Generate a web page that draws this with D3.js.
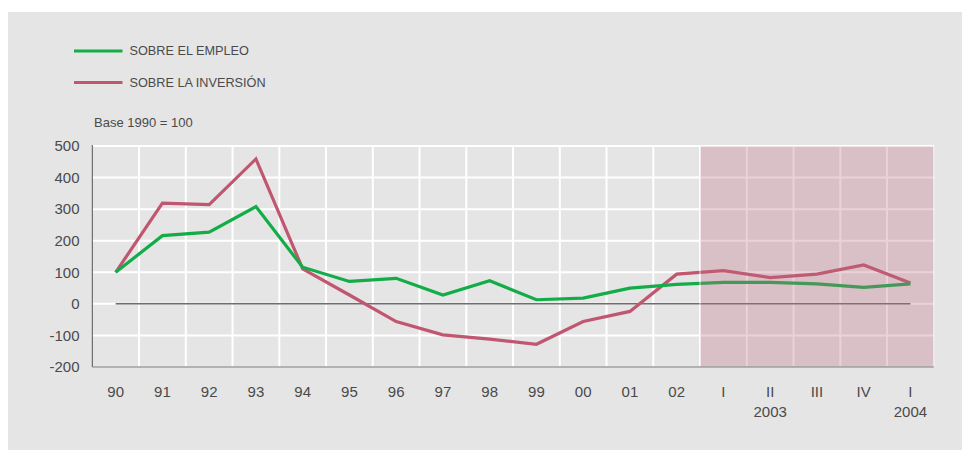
<!DOCTYPE html>
<html>
<head>
<meta charset="utf-8">
<script src="https://cdn.jsdelivr.net/npm/d3@7"></script>
<style>
html,body{margin:0;padding:0;background:#fff;}
svg{display:block;font-family:"Liberation Sans", Arial, sans-serif;}
</style>
</head>
<body>
<svg id="chart" width="962" height="450"></svg>
<script>
const categories = ["90","91","92","93","94","95","96","97","98","99","00","01","02","I","II","III","IV","I2004"];
const tickLabels = ["90","91","92","93","94","95","96","97","98","99","00","01","02","I","II","III","IV","I"];
const yearLabels = [{cat:"II", text:"2003"},{cat:"I2004", text:"2004"}];
const empleo =    [100,216,227,308,116,71,81,28,73,13,18,50,62,68,68,63,52,63];
const inversion = [100,319,314,459,111,28,-56,-98,-112,-128,-56,-24,94,105,83,94,123,66];
const yTicks = [500,400,300,200,100,0,-100,-200];
const seriesNames = ["SOBRE EL EMPLEO","SOBRE LA INVERSIÓN"];
const colors = ["#13ad48","#c0566f"];
const shadedFrom = "I";

(function(){
const svg = d3.select("#chart");
svg.append("rect").attr("x",8).attr("y",12).attr("width",954).attr("height",438).attr("fill","#e5e5e5");

const pL=92.3, pR=933.8, pT=146, pB=367;
const x = d3.scaleBand().domain(categories).range([pL,pR]).padding(0);
const y = d3.scaleLinear().domain([-200,500]).range([pB,pT]);
const cx = c => x(c)+x.bandwidth()/2;
const txt = "#4a4a4a";

const g = svg.append("g");
g.selectAll(".hg").data(yTicks).enter().append("line")
  .attr("x1",pL).attr("x2",pR).attr("y1",d=>y(d)).attr("y2",d=>y(d))
  .attr("stroke","#fff").attr("stroke-width",2);
g.selectAll(".vg").data(categories.slice(1)).enter().append("line")
  .attr("x1",d=>x(d)).attr("x2",d=>x(d)).attr("y1",pT).attr("y2",pB)
  .attr("stroke","#fff").attr("stroke-width",2);
g.append("line").attr("x1",cx(categories[0])).attr("x2",cx(categories[categories.length-1]))
  .attr("y1",y(0)).attr("y2",y(0)).attr("stroke","#222").attr("stroke-width",1);

const line = d3.line().x((d,i)=>cx(categories[i])).y(d=>y(d));
[inversion, empleo].forEach((s,k)=>{
  g.append("path").datum(s).attr("d",line).attr("fill","none")
   .attr("stroke",colors[1-k]).attr("stroke-width",3.2).attr("stroke-linejoin","miter");
});
const sx = x(shadedFrom);
g.append("rect").attr("x",sx).attr("y",pT).attr("width",pR-sx).attr("height",pB-pT)
  .attr("fill","rgb(190,105,125)").attr("fill-opacity",0.3);
g.append("path").attr("d",`M${sx},${pB}V${pT}H${pR}V${pB}`)
  .attr("fill","none").attr("stroke","#fff").attr("stroke-width",1).attr("stroke-opacity",0.8);

g.append("line").attr("x1",pL).attr("x2",pR).attr("y1",pB).attr("y2",pB)
  .attr("stroke","#999").attr("stroke-width",1.5);
g.append("line").attr("x1",pL).attr("x2",pL).attr("y1",pT-1).attr("y2",pB)
  .attr("stroke","#555").attr("stroke-width",1);

g.selectAll(".yl").data(yTicks).enter().append("text")
  .attr("x",79.5).attr("y",d=>y(d)).attr("dy","0.35em").attr("text-anchor","end")
  .attr("font-size",15).attr("fill",txt).text(d=>d);
g.selectAll(".xl").data(categories).enter().append("text")
  .attr("x",d=>cx(d)).attr("y",396.5).attr("text-anchor","middle")
  .attr("font-size",15).attr("fill",txt).text((d,i)=>tickLabels[i]);
g.selectAll(".yr").data(yearLabels).enter().append("text")
  .attr("x",d=>cx(d.cat)).attr("y",416.5).attr("text-anchor","middle")
  .attr("font-size",15).attr("fill",txt).text(d=>d.text);

seriesNames.forEach((n,k)=>{
  const ly = 51 + k*31.5;
  svg.append("line").attr("x1",74).attr("x2",122.5).attr("y1",ly).attr("y2",ly)
    .attr("stroke",colors[k]).attr("stroke-width",3.2);
  svg.append("text").attr("x",129.5).attr("y",ly).attr("dy","0.35em")
    .attr("font-size",12.7).attr("fill",txt).text(n);
});
svg.append("text").attr("x",94).attr("y",122.5).attr("dy","0.35em")
  .attr("font-size",13).attr("fill",txt).text("Base 1990 = 100");
})();
</script>
</body>
</html>
